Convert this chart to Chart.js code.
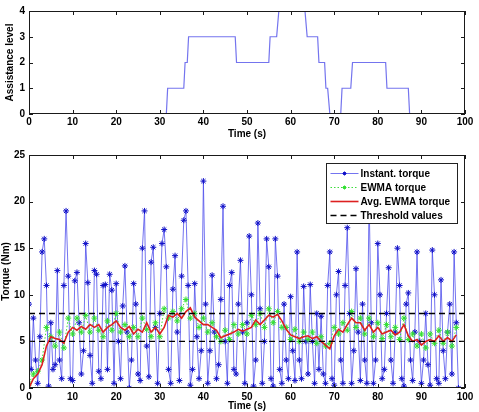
<!DOCTYPE html>
<html><head><meta charset="utf-8">
<script src="https://cdn.jsdelivr.net/npm/chart.js@4.4.1/dist/chart.umd.min.js"></script>
<style>
html,body{margin:0;padding:0;background:#fff;}
#wrap{position:relative;width:479px;height:412px;overflow:hidden;background:#fff;}
#c1{position:absolute;left:0;top:0;width:479px;height:140px;}
#c2{position:absolute;left:0;top:140px;width:479px;height:272px;}
</style></head><body>
<div id="wrap"><canvas id="c1" width="479" height="140"></canvas><canvas id="c2" width="479" height="272"></canvas></div>
<script>
// ---------- data ----------
const assistTimes  = [0, 31.5, 31.8, 35.5, 35.8, 36.3, 36.6, 47.3, 47.6, 55, 55.3, 56.8, 57.3, 63.3, 63.8, 66.2, 66.5, 67.8, 68.1, 68.5, 69, 71.5, 71.8, 73.8, 74.2, 81.8, 82.1, 87, 87.3, 98];
const assistLevels = [0, 0,    1,    1,    2,    2,    3,    3,    2,    2,  3,    3,    4,    4,    3,    3,    2,    2,    1,    1,    0,  0,    1,    1,    2,    2,    1,    1,  0,    0];

const torqueStep = 0.5; // s between instantaneous samples
const instTorque = [
  9, 2, 7.5, 3, 0.5, 5.5, 14.6, 16, 11, 0.2,
  7, 2, 2.5, 12.6, 3, 1, 11, 19, 12, 1,
  0.8, 11.5, 12.4, 7, 1.5, 4, 15.5, 11.3, 3.5, 0.5,
  12.6, 12.2, 1.8, 1, 11, 11.1, 2, 12.2, 10.5, 0.5,
  11.2, 5, 1, 8.8, 13.1, 6, 0, 3, 11.2, 9,
  1.5, 0.8, 15, 19, 4.5, 1.2, 13.5, 15.1, 6.5, 0.5,
  8, 15.5, 17, 13, 2, 0.5, 10.6, 14.2, 6, 0.8,
  12, 18, 19, 11, 0.3, 2, 11.2, 5.5, 1, 4,
  22.2, 9, 0.5, 4, 12.1, 6, 1, 2.5, 9.5, 19.5,
  5, 0.5, 11, 12.4, 2, 1.5, 9, 13.7, 6, 0.5,
  7, 16.3, 10, 0.2, 3, 17.7, 8.5, 0.5, 5, 16,
  13, 1, 0.2, 16, 12, 2, 0.5, 9, 3, 1,
  9.8, 4, 0.8, 14.6, 3, 1, 10.9, 5, 1.5, 11.1,
  5, 0.5, 8, 2, 7.7, 1.5, 0.5, 11, 14.6, 1,
  0.3, 10, 12.5, 3, 0.5, 11, 17.2, 8, 0.5, 4,
  12.8, 6, 0.8, 9, 3, 0.5, 20.5, 7, 0.5, 3,
  15.5, 10, 1, 2, 8, 12.9, 3, 0.5, 6, 15,
  11, 1, 0.2, 9, 10.2, 3, 0.8, 6, 14.6, 5,
  0.5, 3, 8, 2.5, 0.3, 14.8, 10, 1, 0.5, 11.6,
  4, 1, 6, 9, 1.5, 14.6, 7, 0
];

const ewmaStep = 1; // s between EWMA samples
const ewmaTorque = [
  0.5, 1.5, 1.8, 3, 6.5, 5.5, 4.5, 6, 4.3, 7.5,
  5.8, 7.5, 6, 7.8, 6, 7.5, 6.2, 5.5, 7.2, 6.2,
  8, 6, 6.8, 5.5, 6.5, 5.5, 7.5, 6.3, 5.5, 7,
  5.5, 8.5, 7.5, 8.2, 7.2, 8.5, 9.5, 7.5, 8, 6.5,
  7.5, 6, 7, 5.5, 5, 6.2, 5.2, 6.8, 5.8, 6.8,
  5.8, 7.8, 6.8, 8, 6.5, 8.5, 7, 8.2, 6.5, 6.5,
  5.2, 6.3, 5, 6, 5.2, 6, 4.8, 5.5, 4.5, 4.8,
  6.5, 5.8, 7, 6.2, 8.2, 6.5, 7.5, 5.8, 7.5, 5.5,
  7, 5.3, 6.8, 5.5, 6.5, 5.2, 7.5, 5.2, 5.8, 4.5,
  5.8, 4.3, 5.8, 4.8, 6.2, 4.8, 6, 4.5, 6.5
];
const avgEwmaTorque = [
  0, 1, 1.5, 2.5, 4.5, 5.5, 5.3, 5.2, 4.8, 6,
  6.5, 6.2, 6.6, 6.3, 6.8, 6.5, 6.8, 6.0, 6.5, 6.8,
  7.2, 6.5, 6.2, 6.6, 5.8, 6.3, 6.0, 7.0, 6.0, 6.5,
  5.8, 6.5, 7.8, 7.6, 8.0, 7.5, 8.2, 8.6, 7.6, 7.2,
  6.8, 6.8, 6.5, 6.2, 5.4, 5.6, 5.8, 6.0, 6.3, 6.1,
  6.3, 6.5, 7.3, 6.8, 7.3, 7.8, 7.6, 7.9, 7.2, 6.3,
  5.7, 5.5, 5.3, 5.5, 5.6, 5.3, 5.5, 5.0, 4.6, 4.2,
  5.6, 6.3, 6.0, 6.8, 7.5, 7.0, 7.0, 6.2, 6.8, 6.0,
  6.5, 5.8, 6.0, 6.2, 5.7, 6.0, 6.8, 5.6, 5.0, 5.2,
  4.6, 5.0, 5.2, 5.0, 5.6, 5.0, 5.4, 5.0, 5.7
];
const thresholds = [5, 8];
const timeRange = [0, 100];
const legendLabels = ['Instant. torque', 'EWMA torque', 'Avg. EWMA torque', 'Threshold values'];

// ---------- helpers ----------
const FONT = {family: '"Liberation Sans", Arial, sans-serif', size: 10, weight: 'bold', lineHeight: 1.2};
const fontStr = 'bold 10px "Liberation Sans", Arial, sans-serif';

const framePlugin = {
  id: 'frame',
  afterDatasetsDraw(chart) {
    const {ctx, chartArea: a, scales: {x, y}} = chart;
    ctx.save();
    ctx.strokeStyle = '#1a1a1a';
    ctx.lineWidth = 1;
    ctx.beginPath();
    x.ticks.forEach(t => {
      const px = Math.round(x.getPixelForValue(t.value)) + 0.5;
      ctx.moveTo(px, a.bottom); ctx.lineTo(px, a.bottom - 4);
      ctx.moveTo(px, a.top); ctx.lineTo(px, a.top + 4);
    });
    y.ticks.forEach(t => {
      const py = Math.round(y.getPixelForValue(t.value)) + 0.5;
      ctx.moveTo(a.left, py); ctx.lineTo(a.left + 4, py);
      ctx.moveTo(a.right, py); ctx.lineTo(a.right - 4, py);
    });
    ctx.stroke();
    ctx.strokeRect(Math.round(a.left) + 0.5, Math.round(a.top) + 0.5, Math.round(a.width) - 1, Math.round(a.height) - 1);
    ctx.restore();
  }
};

const legendPlugin = {
  id: 'mlegend',
  afterDraw(chart) {
    const {ctx, chartArea: a} = chart;
    const w = 131, h = 60;
    const left = Math.round(a.right) - 8 - w + 0.5;
    const top = Math.round(a.top) + 8 + 0.5;
    ctx.save();
    ctx.fillStyle = '#fff';
    ctx.fillRect(left, top, w, h);
    ctx.strokeStyle = '#222';
    ctx.lineWidth = 1;
    ctx.strokeRect(left, top, w, h);
    ctx.font = fontStr;
    ctx.textBaseline = 'middle';
    [0, 1, 2, 3].forEach((di, i) => {
      const ds = chart.data.datasets[di];
      const yy = Math.round(top + 9 + i * 14.2) + 0.5;
      const x0 = left + 4, x1 = left + 32;
      ctx.save();
      ctx.strokeStyle = ds.borderColor;
      ctx.lineWidth = ds.borderWidth;
      ctx.setLineDash(ds.borderDash || []);
      ctx.beginPath(); ctx.moveTo(x0, yy); ctx.lineTo(x1, yy); ctx.stroke();
      ctx.restore();
      if (ds.pointRadius > 0) {
        ctx.save();
        ctx.strokeStyle = ds.pointBorderColor;
        ctx.fillStyle = ds.pointBorderColor;
        ctx.lineWidth = 1;
        Chart.helpers.drawPoint(ctx, {pointStyle: ds.pointStyle, radius: 2, borderWidth: 1, rotation: 0}, (x0 + x1) / 2, yy);
        ctx.restore();
      }
      ctx.fillStyle = '#000';
      ctx.fillText(legendLabels[i], left + 34, yy + 0.5);
    });
    ctx.restore();
  }
};

function axisX(height, pad) {
  return {
    type: 'linear', min: timeRange[0], max: timeRange[1],
    ticks: {stepSize: 10, padding: pad, font: FONT, color: '#000', maxRotation: 0, autoSkip: false},
    grid: {display: false, drawTicks: false},
    border: {display: false},
    title: {display: true, text: 'Time (s)', font: FONT, color: '#000', padding: {top: 0, bottom: 0}},
    afterFit(s) { s.height = height; }
  };
}
function axisY(max, step, label, tpad) {
  return {
    type: 'linear', min: 0, max: max,
    ticks: {stepSize: step, padding: 4, font: FONT, color: '#000'},
    grid: {display: false, drawTicks: false},
    border: {display: false},
    title: {display: true, text: label, font: FONT, color: '#000', padding: {top: tpad, bottom: 0}},
    afterFit(s) { s.width = 29; }
  };
}

// ---------- top chart ----------
new Chart(document.getElementById('c1'), {
  type: 'line',
  data: {
    datasets: [{
      data: assistTimes.map((t, i) => ({x: t, y: assistLevels[i]})),
      borderColor: '#7474ee', borderWidth: 1.2, pointRadius: 0, tension: 0, fill: false
    }]
  },
  options: {
    responsive: false, animation: false, devicePixelRatio: 1,
    layout: {padding: {left: 0, right: 14, top: 11, bottom: 0}},
    plugins: {legend: {display: false}, tooltip: {enabled: false}},
    scales: {x: axisX(26, 2), y: axisY(4, 1, 'Assistance level', 4)}
  },
  plugins: [framePlugin]
});

// ---------- bottom chart ----------
new Chart(document.getElementById('c2'), {
  type: 'line',
  data: {
    datasets: [
      {
        label: legendLabels[0],
        data: instTorque.map((v, i) => ({x: i * torqueStep, y: v})),
        borderColor: 'rgba(70,70,235,0.75)', borderWidth: 1,
        pointStyle: 'star', pointRadius: 3, pointBorderColor: '#1010c8', pointBorderWidth: 1,
        pointBackgroundColor: '#1010c8', tension: 0, order: 3
      },
      {
        label: legendLabels[1],
        data: ewmaTorque.map((v, i) => ({x: i * ewmaStep, y: v})),
        borderColor: '#3bdc3b', borderWidth: 1, borderDash: [1.5, 2],
        pointStyle: 'star', pointRadius: 3, pointBorderColor: '#30e030', pointBorderWidth: 1,
        tension: 0, order: 2
      },
      {
        label: legendLabels[2],
        data: avgEwmaTorque.map((v, i) => ({x: i * ewmaStep, y: v})),
        borderColor: '#dd2020', borderWidth: 1.6, pointRadius: 0, tension: 0, order: 1
      },
      {
        label: legendLabels[3],
        data: [{x: timeRange[0], y: thresholds[0]}, {x: timeRange[1], y: thresholds[0]}],
        borderColor: '#000', borderWidth: 1.4, borderDash: [6, 4], pointRadius: 0, order: 0
      },
      {
        label: 'thr2',
        data: [{x: timeRange[0], y: thresholds[1]}, {x: timeRange[1], y: thresholds[1]}],
        borderColor: '#000', borderWidth: 1.4, borderDash: [6, 4], pointRadius: 0, order: 0
      }
    ]
  },
  options: {
    responsive: false, animation: false, devicePixelRatio: 1,
    layout: {padding: {left: 0, right: 14, top: 15, bottom: 0}},
    plugins: {legend: {display: false}, tooltip: {enabled: false}},
    scales: {x: axisX(24, 3), y: axisY(25, 5, 'Torque (Nm)', 0)}
  },
  plugins: [framePlugin, legendPlugin]
});
</script>
</body></html>
